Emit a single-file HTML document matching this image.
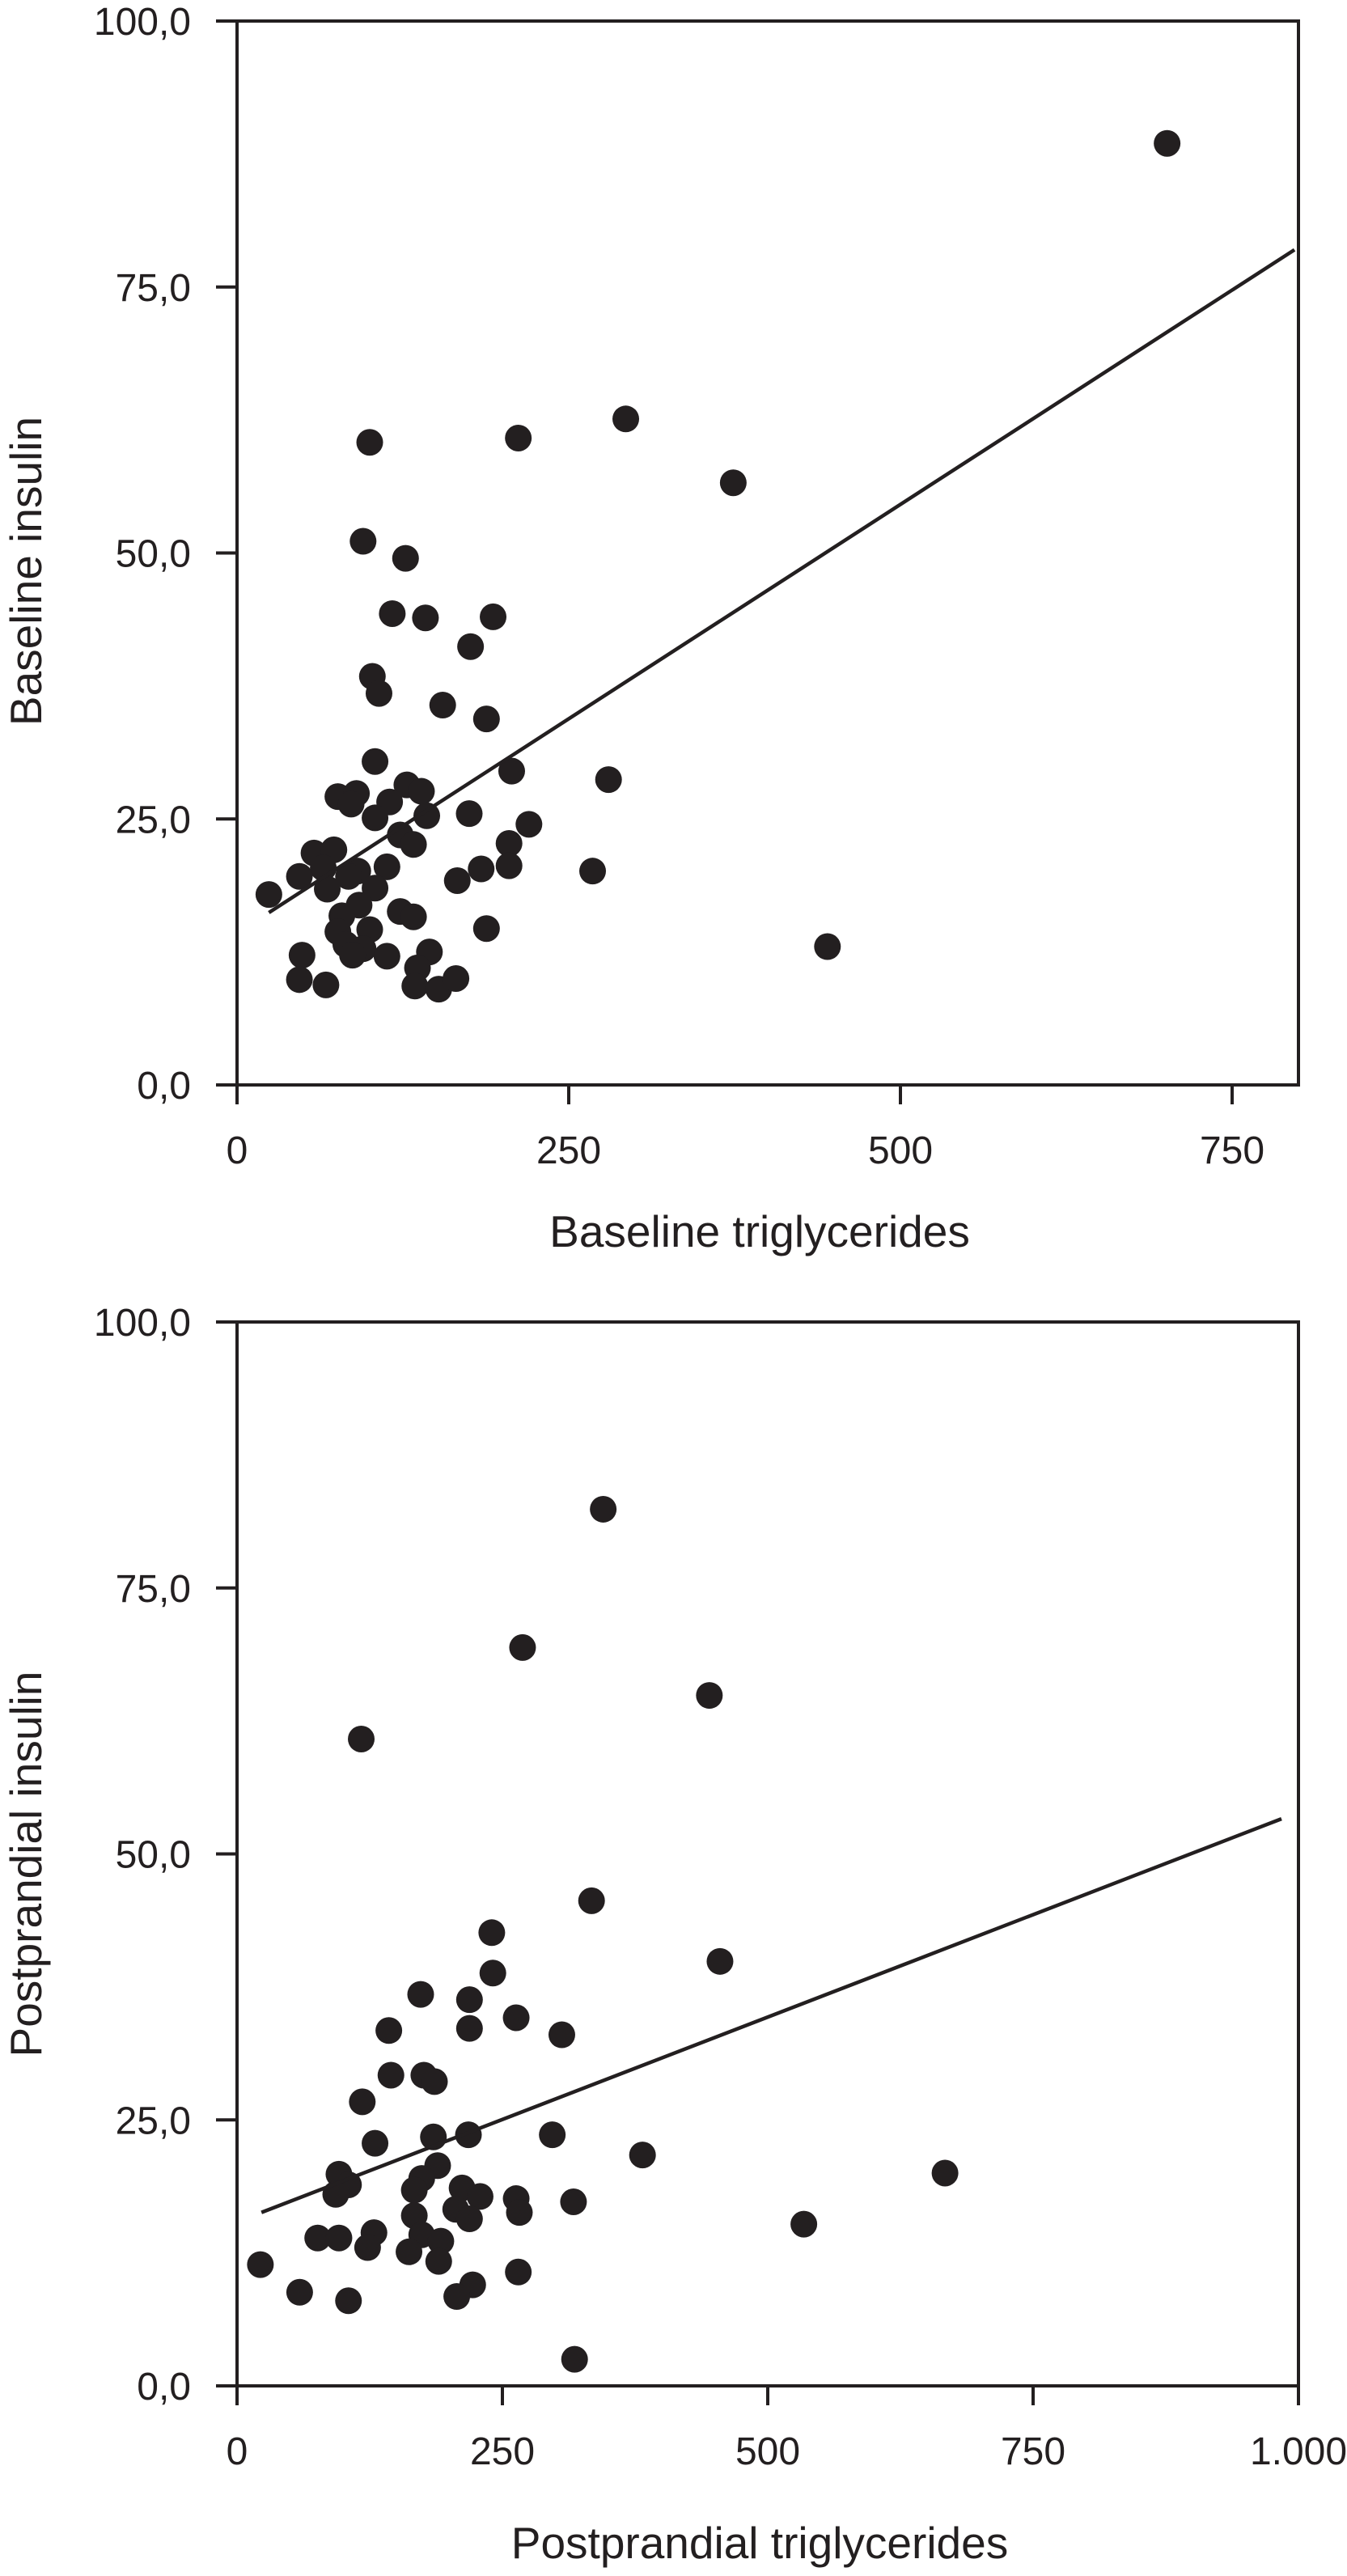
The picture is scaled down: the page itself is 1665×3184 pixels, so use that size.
<!DOCTYPE html>
<html><head><meta charset="utf-8"><style>
html,body{margin:0;padding:0;background:#fff;}
svg{display:block;}
text{font-family:"Liberation Sans",Arial,sans-serif;fill:#231f20;}
</style></head><body>
<svg id="svg" width="1665" height="3184" viewBox="0 0 1665 3184" xmlns="http://www.w3.org/2000/svg"></svg>
<script>
// Top chart data
const topX = [24,701,100,212,293,374,95,127,117,142,193,176,102,107,155,188,104,207,280,128,139,76,90,86,115,104,143,175,220,123,133,205,58,73,65,47,91,84,113,184,205,268,68,104,166,92,79,123,133,76,100,188,82,95,87,49,113,145,445,136,47,67,134,152,165];
const topY = [17.9,88.5,60.4,60.8,62.6,56.6,51.1,49.5,44.3,43.9,44.0,41.2,38.4,36.8,35.7,34.4,30.4,29.5,28.7,28.2,27.6,27.1,27.4,26.4,26.6,25.1,25.3,25.5,24.5,23.5,22.6,22.7,21.8,22.1,20.4,19.6,20.1,19.6,20.5,20.3,20.6,20.1,18.4,18.5,19.2,16.9,15.9,16.3,15.8,14.4,14.6,14.7,13.2,12.8,12.2,12.2,12.1,12.5,13.0,11.0,9.9,9.4,9.3,9.0,10.0];
const topFitX = [24,797];
const topFitY = [16.2,78.5];
const topXTicks = [0,250,500,750];
const topXTickLabels = ["0","250","500","750"];
const yTicks = [0,25,50,75,100];
const yTickLabels = ["0,0","25,0","50,0","75,0","100,0"];
// Bottom chart data
const botX = [345,269,445,117,334,240,455,241,173,219,263,219,143,306,145,176,186,118,130,185,218,297,382,667,96,189,174,105,93,167,212,229,263,317,206,266,167,219,534,174,129,76,96,192,123,162,190,22,265,59,222,207,105,318];
const botY = [82.4,69.4,64.9,60.8,45.6,42.6,39.9,38.8,36.8,36.3,34.6,33.6,33.4,33.0,29.2,29.2,28.6,26.7,22.8,23.4,23.6,23.6,21.7,20.0,19.9,20.7,19.5,18.9,18.0,18.4,18.6,17.8,17.6,17.3,16.6,16.3,16.0,15.7,15.2,14.2,14.4,13.9,13.9,13.6,13.0,12.6,11.7,11.4,10.7,8.8,9.5,8.4,8.0,2.5];
const botFitX = [23,984];
const botFitY = [16.3,53.3];
const botXTicks = [0,250,500,750,1000];
const botXTickLabels = ["0","250","500","750","1.000"];

const NS="http://www.w3.org/2000/svg";
const svg=document.getElementById('svg');
function mk(tag,attrs,parent){const e=document.createElementNS(NS,tag);for(const k in attrs)e.setAttribute(k,attrs[k]);(parent||svg).appendChild(e);return e;}

function chart(cfg){
  const L=293,R=1605,T=cfg.top,B=cfg.bottom;
  const sx=v=>L+(v/cfg.xmax)*(R-L);
  const sy=v=>B-(v/100)*(B-T);
  const g=mk('g',{});
  
  
  const frame=mk('rect',{x:L,y:T,width:R-L,height:B-T,fill:'none',stroke:'#231f20','stroke-width':4},g);
  
  
  yTicks.forEach((v,i)=>{
    const t=mk('line',{x1:267,x2:L,y1:sy(v),y2:sy(v),stroke:'#231f20','stroke-width':4},g);
    
    
    const tx=mk('text',{x:236,y:sy(v)+17,'font-size':48,'text-anchor':'end'},g);
    tx.textContent=yTickLabels[i];
    
    
  });
  cfg.xticks.forEach((v,i)=>{
    const t=mk('line',{x1:sx(v),x2:sx(v),y1:B,y2:B+24,stroke:'#231f20','stroke-width':4},g);
    
    
    const tx=mk('text',{x:sx(v),y:B+97,'font-size':48,'text-anchor':'middle'},g);
    tx.textContent=cfg.xlabels[i];
    
    
  });
  cfg.xs.forEach((v,i)=>{
    const c=mk('circle',{cx:sx(v),cy:sy(cfg.ys[i]),r:16.5,fill:'#231f20'},g);
    
    
  });
  const fl=mk('line',{x1:sx(cfg.fx[0]),y1:sy(cfg.fy[0]),x2:sx(cfg.fx[1]),y2:sy(cfg.fy[1]),stroke:'#231f20','stroke-width':4.5},g);
  
  
  const xt=mk('text',{x:(L+R)/2-10,y:cfg.xtitleY,'font-size':55,'text-anchor':'middle'},g);
  xt.textContent=cfg.xtitle;
  
  
  const yt=mk('text',{x:0,y:0,'font-size':55,'text-anchor':'middle',transform:`translate(51,${cfg.ytitleY}) rotate(-90)`},g);
  yt.textContent=cfg.ytitle;
  
  
}
chart({name:'baseline-chart',top:26,bottom:1341,xmax:800,xticks:topXTicks,xlabels:topXTickLabels,xs:topX,ys:topY,fx:topFitX,fy:topFitY,xtitle:'Baseline triglycerides',xtitleY:1541,ytitle:'Baseline insulin',ytitleY:706});
chart({name:'postprandial-chart',top:1634,bottom:2949,xmax:1000,xticks:botXTicks,xlabels:botXTickLabels,xs:botX,ys:botY,fx:botFitX,fy:botFitY,xtitle:'Postprandial triglycerides',xtitleY:3162,ytitle:'Postprandial insulin',ytitleY:2304});
</script>
</body></html>
